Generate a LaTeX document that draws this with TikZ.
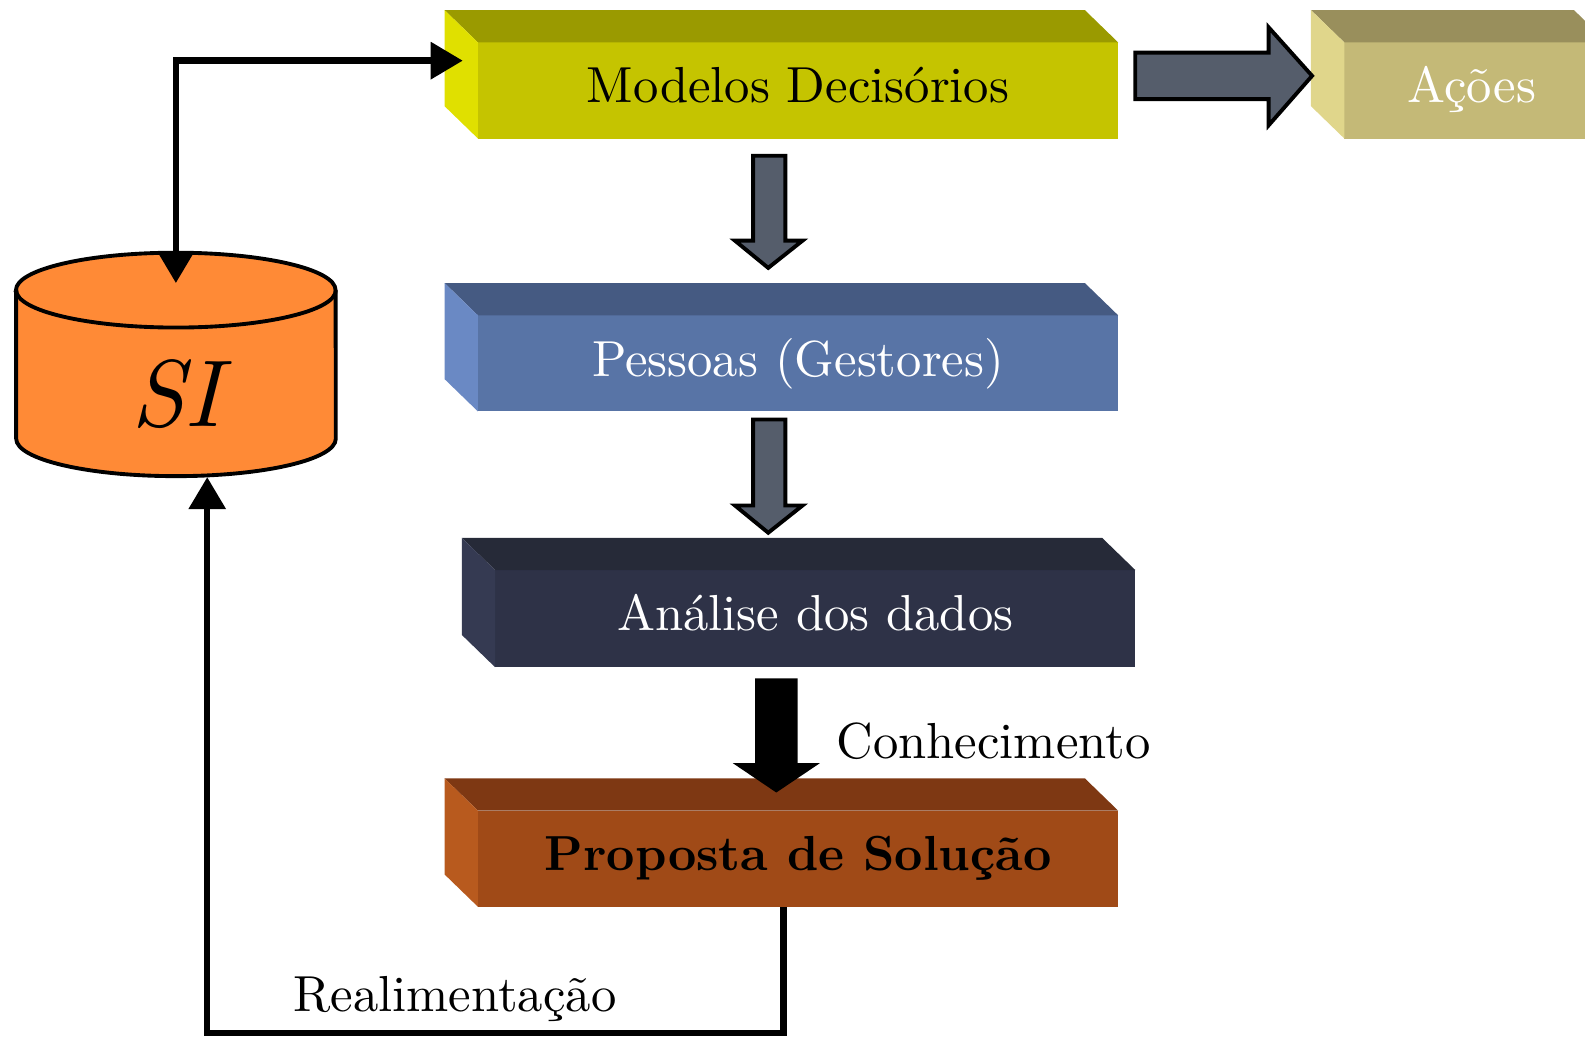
\documentclass[tikz,border=0pt]{standalone}
\usepackage{fontspec}
\setmainfont{lmroman10}[Extension=.otf, UprightFont=*-regular, BoldFont=*-bold, ItalicFont=*-italic, BoldItalicFont=*-bolditalic]
\usetikzlibrary{calc,arrows.meta}
\definecolor{modF}{HTML}{C5C400}
\definecolor{modT}{HTML}{9A9A00}
\definecolor{modL}{HTML}{E0E000}
\definecolor{acoF}{HTML}{C4B977}
\definecolor{acoT}{HTML}{998F5C}
\definecolor{acoL}{HTML}{E0D68B}
\definecolor{pesF}{HTML}{5874A6}
\definecolor{pesT}{HTML}{455A82}
\definecolor{pesL}{HTML}{6A89C4}
\definecolor{anaF}{HTML}{2E3247}
\definecolor{anaT}{HTML}{262A38}
\definecolor{anaL}{HTML}{353A52}
\definecolor{proF}{HTML}{A04A17}
\definecolor{proT}{HTML}{7E3813}
\definecolor{proL}{HTML}{B85A1E}
\definecolor{siF}{HTML}{FF8A36}
\definecolor{arrowgray}{HTML}{555D6B}
\tikzset{
  frontface/.style={inner sep=0pt, outer sep=0pt, minimum height=0.960cm,
    font=\fontsize{14.4}{17}\selectfont},
  conn/.style={line width=1.8pt, black},
  bigtip/.tip={Triangle[length=0.32cm,width=0.36cm]},
  blockarrow/.style={fill=arrowgray, draw=black, line width=1.1pt, line join=miter},
  lbl/.style={inner sep=0pt, font=\fontsize{14.4}{17}\selectfont}
}
\newcommand\threedfaces[3]{%
  \fill[#2] (#1.north west) -- ++(-33,-32) -- ($(#1.north east)+(-33,-32)$) -- (#1.north east) -- cycle;
  \fill[#3] (#1.north west) -- ++(-33,-32) -- ($(#1.south west)+(-33,-32)$) -- (#1.south west) -- cycle;
}
\newcommand\up[1]{\raisebox{0.12cm}{#1}}
\begin{document}
\begin{tikzpicture}[x=0.010108cm, y=-0.010108cm]
\useasboundingbox (0,0) rectangle (1568,1027);

% boxes
\node[frontface, fill=modF, minimum width=6.398cm] (mod) at (789.5,89.5) {\up{Modelos Decisórios}};
\threedfaces{mod}{modT}{modL}
\node[frontface, fill=acoF, minimum width=2.628cm, text=white] (aco) at (1460,89.5) {\up{Ações\hspace{0.08cm}}};
\threedfaces{aco}{acoT}{acoL}
\node[frontface, fill=pesF, minimum width=6.398cm, text=white] (pes) at (789.5,359.5) {\up{Pessoas (Gestores)}};
\threedfaces{pes}{pesT}{pesL}
\node[frontface, fill=anaF, minimum width=6.398cm, minimum height=0.970cm, text=white] (ana) at (806.5,612) {\up{Análise dos dados}};
\threedfaces{ana}{anaT}{anaL}
\node[frontface, fill=proF, minimum width=6.398cm, font=\fontsize{14}{17}\selectfont\bfseries] (pro) at (789.5,849.5) {\raisebox{0.06cm}{Proposta de Solução}};
\threedfaces{pro}{proT}{proL}

% cylinder SI
\filldraw[fill=siF, draw=black, line width=1.1pt]
  (16,287) -- (16,434) arc[start angle=180, end angle=360, x radius=1.597cm, y radius=0.374cm]
  -- (332,287) arc[start angle=0, end angle=180, x radius=1.597cm, y radius=0.374cm] -- cycle;
\draw[black, line width=1.1pt] (16,287) arc[start angle=180, end angle=360, x radius=1.597cm, y radius=0.374cm];
\node[inner sep=0pt, font=\fontsize{27}{32}\selectfont] (si) at (180,390) {\textit{SI}};
\coordinate (sitop) at (174,280);
\coordinate (sibot) at (205,472);
\coordinate (modin) at ($(mod.west)+(-15,-29.5)$);
\coordinate (probot) at ($(pro.south)+(-14.5,0)$);

% block arrows
\draw[blockarrow] (1123,52) -- (1255,52) -- (1255,27) -- (1298,75) -- (1255,124) -- (1255,98) -- (1123,98) -- cycle;
\draw[blockarrow] (745,154) -- (777,154) -- (777,238) -- (794,238) -- (760,265) -- (727,238) -- (745,238) -- cycle;
\draw[blockarrow] (745,415) -- (777,415) -- (777,500) -- (794,500) -- (760,527) -- (727,500) -- (745,500) -- cycle;
\fill[black] (747,671) -- (789,671) -- (789,755) -- (811,755) -- (768,784) -- (725,755) -- (747,755) -- cycle;
\node[lbl, anchor=west] (con) at (827,733) {Conhecimento};

% thick connectors
\draw[conn, {bigtip}-{bigtip}] (sitop) |- (modin);
\draw[conn, -{bigtip}] (probot) -- ++(0,125) -| (sibot);
\node[lbl] (rea) at (450,988) {Realimentação};
\end{tikzpicture}
\end{document}
